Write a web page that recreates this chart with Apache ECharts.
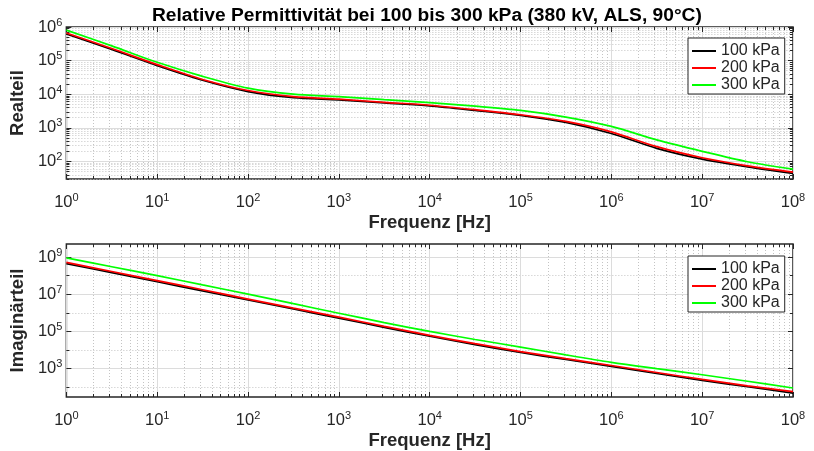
<!DOCTYPE html>
<html><head><meta charset="utf-8">
<script src="https://cdn.jsdelivr.net/npm/echarts@6/dist/echarts.min.js"></script>
<style>html,body{margin:0;padding:0;background:#fff}#c{width:814px;height:451px}</style>
</head><body><div id="c"></div>
<script>
// ---- data ----
const freq = [1, 3.16, 10, 31.6, 100, 316, 1e3, 3.16e3, 1e4, 3.16e4, 1e5, 3.16e5, 1e6, 3.16e6, 1e7, 3.16e7, 1e8];
const seriesNames = ['100 kPa', '200 kPa', '300 kPa'];
const real100 = [620000, 214000, 71000, 26000, 12000, 7900, 6800, 5500, 4500, 3300, 2350, 1450, 680, 245, 117, 69, 44];
const real200 = [660000, 229000, 76000, 27500, 12900, 8500, 7100, 5750, 4700, 3470, 2450, 1550, 760, 275, 129, 74, 48];
const real300 = [810000, 275000, 89000, 34000, 15100, 10000, 8500, 6900, 5600, 4400, 3300, 2090, 1100, 437, 200, 98, 59];
const imag100 = [4.4e8, 1.45e8, 4.7e7, 1.5e7, 4.9e6, 1.6e6, 5.2e5, 1.66e5, 5.5e4, 1.95e4, 7400, 3100, 1320, 550, 235, 107, 49];
const imag200 = [5.1e8, 1.66e8, 5.4e7, 1.74e7, 5.5e6, 1.78e6, 5.9e5, 1.86e5, 6.2e4, 2.2e4, 8300, 3470, 1480, 620, 263, 120, 58];
const imag300 = [8.9e8, 3.0e8, 1.0e8, 3.16e7, 1.02e7, 3.1e6, 9.5e5, 3.0e5, 1.0e5, 3.7e4, 1.45e4, 5500, 2190, 1000, 470, 210, 91];
// tick positions
const xMajor = [1, 10, 100, 1e3, 1e4, 1e5, 1e6, 1e7, 1e8];
const realMajor = [100, 1e3, 1e4, 1e5, 1e6];
const imagMajor = [1e3, 1e5, 1e7, 1e9];
const imagMinor = [100, 1e4, 1e6, 1e8];
const minorMult = [2, 3, 4, 5, 6, 7, 8, 9];

const xMinor = [];
xMajor.slice(0, -1).forEach(d => minorMult.forEach(m => xMinor.push(d * m)));
const realMinor = [];
[10, 100, 1e3, 1e4, 1e5].forEach(d => minorMult.forEach(m => { if (d * m >= 30) realMinor.push(d * m); }));

const FONT = 'Liberation Sans, Arial, Helvetica, sans-serif';
const AX = '#262626';
const supFmt = v => '{b|10}{s|' + Math.round(Math.log10(v)) + '}';
const rich = {
  b: { fontSize: 16.5, color: AX, fontFamily: FONT },
  s: { fontSize: 11, color: AX, fontFamily: FONT, padding: [0, 0, 9, 0] }
};
const majorSplit = { show: true, lineStyle: { color: '#dcdcdc', width: 1, type: 'solid' } };
const minorSplit = { show: true, lineStyle: { color: '#c4c4c4', width: 1, type: [1, 2] } };
const nameStyle = { fontSize: 18.5, fontWeight: 'bold', color: AX, fontFamily: FONT };

function xAxes(grid) {
  const base = { type: 'log', gridIndex: grid, min: 1, max: 1e8, axisLine: { show: false } };
  return [
    Object.assign({}, base, {
      position: 'bottom',
      name: 'Frequenz [Hz]', nameLocation: 'middle', nameGap: 34,
      nameTextStyle: nameStyle,
      axisLabel: { customValues: xMajor, formatter: supFmt, rich: rich, margin: 13,
                   alignMinLabel: 'center', alignMaxLabel: 'center' },
      axisTick: { customValues: xMajor, inside: true, length: 5, lineStyle: { color: AX } },
      splitLine: majorSplit
    }),
    Object.assign({}, base, {
      position: 'bottom', axisLabel: { show: false },
      axisTick: { customValues: xMinor, inside: true, length: 3, lineStyle: { color: AX } },
      splitLine: minorSplit
    }),
    Object.assign({}, base, {
      position: 'top', axisLabel: { show: false },
      axisTick: { customValues: xMajor, inside: true, length: 5, lineStyle: { color: AX } },
      splitLine: { show: false }
    }),
    Object.assign({}, base, {
      position: 'top', axisLabel: { show: false },
      axisTick: { customValues: xMinor, inside: true, length: 3, lineStyle: { color: AX } },
      splitLine: { show: false }
    })
  ];
}
function yAxes(grid, name, min, max, major, minor) {
  const base = { type: 'log', gridIndex: grid, min: min, max: max, axisLine: { show: false } };
  return [
    Object.assign({}, base, {
      position: 'left',
      name: name, nameLocation: 'middle', nameGap: 32,
      nameTextStyle: nameStyle,
      axisLabel: { customValues: major, formatter: supFmt, rich: rich, margin: 4 },
      axisTick: { customValues: major, inside: true, length: 5, lineStyle: { color: AX } },
      splitLine: majorSplit
    }),
    Object.assign({}, base, {
      position: 'left', axisLabel: { show: false },
      axisTick: { customValues: minor, inside: true, length: 3, lineStyle: { color: AX } },
      splitLine: minorSplit
    }),
    Object.assign({}, base, {
      position: 'right', axisLabel: { show: false },
      axisTick: { customValues: major, inside: true, length: 5, lineStyle: { color: AX } },
      splitLine: { show: false }
    }),
    Object.assign({}, base, {
      position: 'right', axisLabel: { show: false },
      axisTick: { customValues: minor, inside: true, length: 3, lineStyle: { color: AX } },
      splitLine: { show: false }
    })
  ];
}

const colors = ['#000000', '#ff0000', '#00ff00'];
function mk(name, vals, grid, color) {
  return {
    name: name, type: 'line', xAxisIndex: grid * 4, yAxisIndex: grid * 4,
    data: freq.map((f, i) => [f, vals[i]]),
    symbol: 'none', smooth: 0.3,
    lineStyle: { color: color, width: 1.7 }, itemStyle: { color: color }, z: 5
  };
}
function legend(top) {
  return {
    left: 688, top: top, orient: 'vertical',
    data: seriesNames, icon: 'rect', itemWidth: 24, itemHeight: 2, itemGap: 1,
    padding: [5, 5, 1, 4], borderColor: AX, borderWidth: 1, backgroundColor: '#fff',
    textStyle: { fontSize: 16, color: AX, fontFamily: FONT, lineHeight: 14 },
    selectedMode: false
  };
}

const chart = echarts.init(document.getElementById('c'), null, { renderer: 'canvas' });
chart.setOption({
  animation: false,
  backgroundColor: '#fff',
  title: {
    text: 'Relative Permittivität bei 100 bis 300 kPa (380 kV, ALS, 90°C)',
    left: 147, top: 3, padding: [3, 5, 3, 5],
    textStyle: { fontSize: 19.2, fontWeight: 'bold', color: '#000', fontFamily: FONT }
  },
  legend: [legend(38), legend(256)],
  grid: [
    { left: 60, right: 21, top: 27, height: 152, show: true, borderColor: AX, borderWidth: 1.5, backgroundColor: 'transparent' },
    { left: 60, right: 21, top: 244, height: 153, show: true, borderColor: AX, borderWidth: 1.5, backgroundColor: 'transparent' }
  ],
  xAxis: xAxes(0).concat(xAxes(1)),
  yAxis: yAxes(0, 'Realteil', 30, 1e6, realMajor, realMinor)
    .concat(yAxes(1, 'Imaginärteil', 30, 5e9, imagMajor, imagMinor)),
  series: [
    mk(seriesNames[0], real100, 0, colors[0]),
    mk(seriesNames[1], real200, 0, colors[1]),
    mk(seriesNames[2], real300, 0, colors[2]),
    mk(seriesNames[0], imag100, 1, colors[0]),
    mk(seriesNames[1], imag200, 1, colors[1]),
    mk(seriesNames[2], imag300, 1, colors[2])
  ]
});
</script></body></html>
